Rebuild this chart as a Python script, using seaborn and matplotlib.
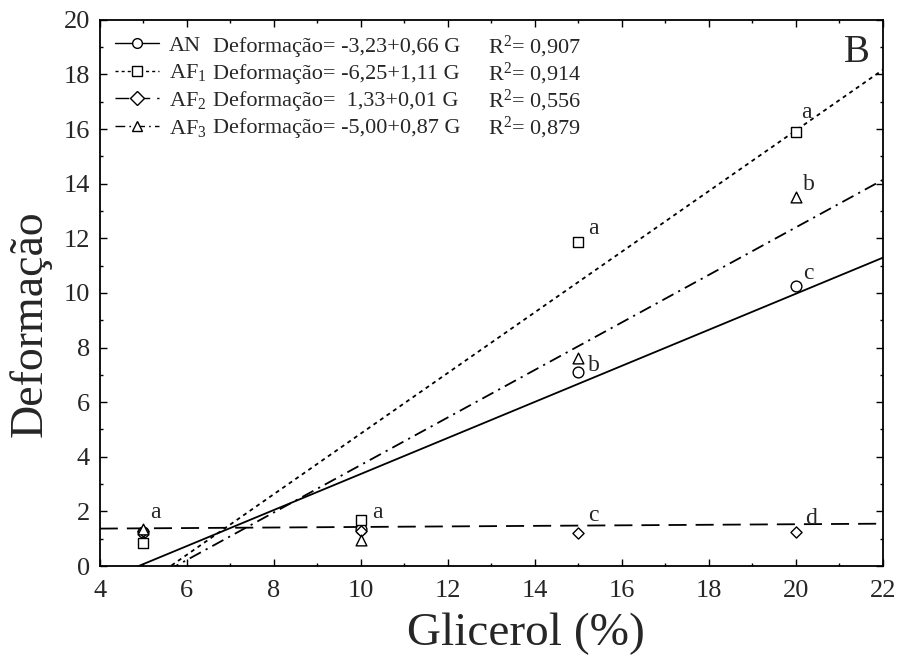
import numpy as np
import pandas as pd
import matplotlib
matplotlib.use("Agg")
import matplotlib.pyplot as plt
from matplotlib.lines import Line2D
from matplotlib.ticker import MultipleLocator
import seaborn as sns

# Glycerol levels (%)
glicerol = [5, 10, 15, 20]

# Deformation measured for each formulation
an = [1.25, 1.35, 7.1, 10.25]
af1 = [0.85, 1.7, 11.85, 15.9]
af2 = [1.3, 1.3, 1.2, 1.25]
af3 = [1.35, 0.95, 7.6, 13.5]

series_names = ["AN", "AF$_1$", "AF$_2$", "AF$_3$"]
intercepts = [-3.23, -6.25, 1.33, -5.00]
slopes = [0.66, 1.11, 0.01, 0.87]
r2 = [0.907, 0.914, 0.556, 0.879]

# Significance letters: (series index, glycerol level, letter)
letters = [
    (3, 5, "a"), (1, 10, "a"),
    (0, 15, "b"), (0, 20, "c"),
    (1, 15, "a"), (1, 20, "a"),
    (2, 15, "c"), (2, 20, "d"),
    (3, 20, "b"),
]
# text offsets (points) for each letter, same order
letter_offsets = [
    (5, 8), (8, 1),
    (7, 1), (5, 5),
    (7, 6), (4, 10),
    (7, 9), (7, 6),
    (5, 5),
]

sns.set_theme(style="ticks")
plt.rcParams["font.family"] = ["Liberation Serif", "DejaVu Serif"]
plt.rcParams["mathtext.fontset"] = "custom"
plt.rcParams["mathtext.rm"] = "Liberation Serif"
plt.rcParams["mathtext.it"] = "Liberation Serif:italic"

values = [an, af1, af2, af3]
markers = ["o", "s", "D", "^"]
msizes = [60, 60, 32, 60]
linestyles = ["-", (0, (2.2, 2.2)), (0, (10, 5)), (0, (7, 3, 1.2, 3))]

rows = []
for name, vals in zip(series_names, values):
    for g, v in zip(glicerol, vals):
        rows.append({"Glicerol": g, "Deformacao": v, "Serie": name})
df = pd.DataFrame(rows)

fig, ax = plt.subplots(figsize=(8.99, 6.62), dpi=100)
fig.subplots_adjust(left=0.111, right=0.982, top=0.970, bottom=0.145)

# fitted lines over the whole x range
xgrid = np.array([4.0, 22.0])
for b0, b1, ls in zip(intercepts, slopes, linestyles):
    line_df = pd.DataFrame({"x": xgrid, "y": b0 + b1 * xgrid})
    sns.lineplot(data=line_df, x="x", y="y", ax=ax, color="black",
                 linewidth=1.3, linestyle=ls, legend=False)

# measured points
for i, name in enumerate(series_names):
    sub = df[df["Serie"] == name]
    sns.scatterplot(data=sub, x="Glicerol", y="Deformacao", ax=ax,
                    marker=markers[i], s=msizes[i], facecolor="white",
                    edgecolor="black", linewidth=1.0, zorder=5, legend=False)

for (si, g, letter), off in zip(letters, letter_offsets):
    yv = values[si][glicerol.index(g)]
    ax.annotate(letter, (g, yv), xytext=off, textcoords="offset points",
                fontsize=17, ha="left", va="baseline")

ax.set_xlim(4, 22)
ax.set_ylim(0, 20)
ax.xaxis.set_major_locator(MultipleLocator(2))
ax.xaxis.set_minor_locator(MultipleLocator(1))
ax.yaxis.set_major_locator(MultipleLocator(2))
ax.yaxis.set_minor_locator(MultipleLocator(1))
ax.tick_params(which="both", direction="in", top=True, right=True,
               color="black", width=1.0)
ax.tick_params(which="major", length=5, labelsize=19,
               labeltop=False, labelright=False)
ax.tick_params(axis="x", which="major", pad=10)
ax.tick_params(axis="y", which="major", pad=7)
ax.tick_params(which="minor", length=2.5)
for sp in ax.spines.values():
    sp.set_linewidth(1.3)
    sp.set_color("black")

ax.set_xlabel("Glicerol (%)", fontsize=34)
ax.xaxis.set_label_coords(0.544, -0.085)
ax.set_ylabel("Deformação", fontsize=33)
ax.yaxis.set_label_coords(-0.062, 0.443)

# legend with line style + marker for each formulation
handles = [Line2D([0], [0], color="black", linestyle=ls, linewidth=1.0,
                  marker=m, markersize=7, markerfacecolor="white",
                  markeredgecolor="black")
           for ls, m in zip(linestyles, markers)]
leg = ax.legend(handles, series_names, loc="upper left", frameon=False,
                fontsize=16, handlelength=2.0, handletextpad=0.45,
                labelspacing=0.3, borderpad=0.0, borderaxespad=0.0,
                bbox_to_anchor=(0.019, 0.972))

row_y = [0.950, 0.901, 0.851, 0.802]
for y, b0, b1, r in zip(row_y, intercepts, slopes, r2):
    sign0 = "-" if b0 < 0 else " "
    eq = f"Deformação= {sign0}{abs(b0):.2f}+{b1:.2f} G".replace(".", ",")
    ax.text(0.144, y, eq, transform=ax.transAxes, fontsize=16, va="center")
    ax.text(0.496, y, f"R$^2$= {r:.3f}".replace(".", ","),
            transform=ax.transAxes, fontsize=16, va="center")

ax.text(0.983, 0.975, "B", transform=ax.transAxes, fontsize=28,
        ha="right", va="top")

fig.savefig("out.png", dpi=100)
